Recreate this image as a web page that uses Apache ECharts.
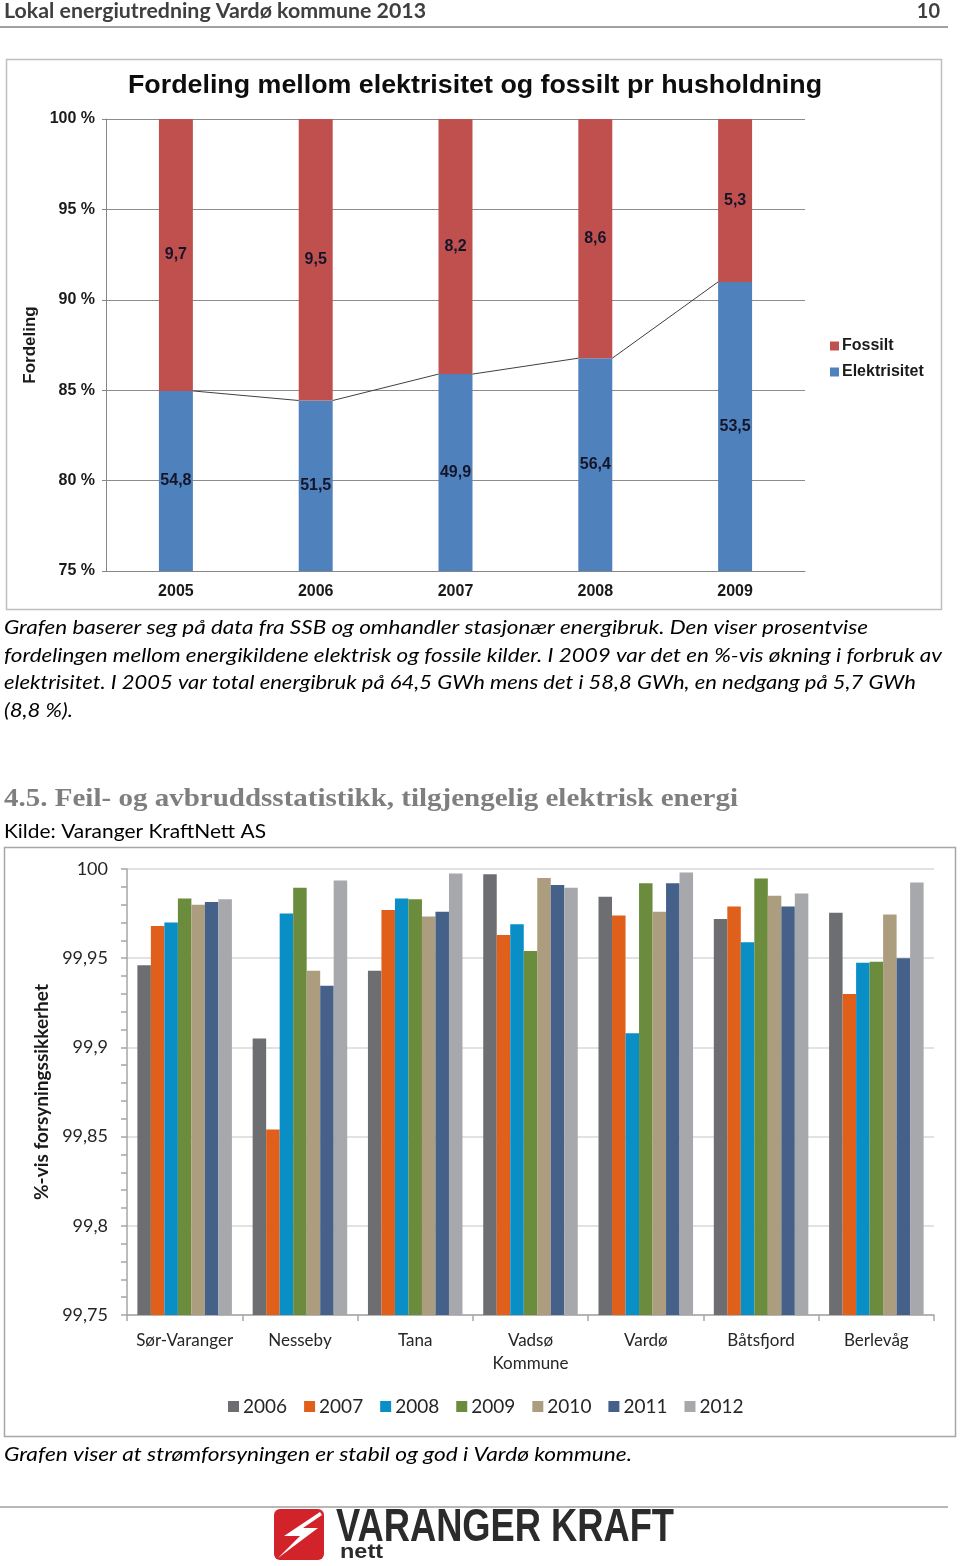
<!DOCTYPE html>
<html>
<head>
<meta charset="utf-8">
<script src="https://cdn.jsdelivr.net/npm/echarts@6/dist/echarts.min.js"></script>
<style>
html,body{margin:0;padding:0;background:#fff;}
#main{width:960px;height:1566px;}
</style>
</head>
<body>
<div id="main"></div>
<script>
// ---------- Top chart data ----------
const years = ['2005', '2006', '2007', '2008', '2009'];
const elLabels = [54.8, 51.5, 49.9, 56.4, 53.5];
const fosLabels = [9.7, 9.5, 8.2, 8.6, 5.3];
const elShare = [84.96, 84.43, 85.89, 86.77, 90.99];
const fosShare = [15.04, 15.57, 14.11, 13.23, 9.01];
const pctTicks = [75, 80, 85, 90, 95, 100];

// ---------- Bottom chart data ----------
const areas = ['Sør-Varanger', 'Nesseby', 'Tana', 'Vadsø\nKommune', 'Vardø', 'Båtsfjord', 'Berlevåg'];
const yearNames = ['2006', '2007', '2008', '2009', '2010', '2011', '2012'];
const v2006 = [99.946, 99.905, 99.943, 99.997, 99.9845, 99.972, 99.9755];
const v2007 = [99.968, 99.854, 99.977, 99.963, 99.974, 99.979, 99.930];
const v2008 = [99.970, 99.975, 99.9835, 99.969, 99.908, 99.959, 99.9475];
const v2009 = [99.9835, 99.9895, 99.983, 99.954, 99.992, 99.9947, 99.948];
const v2010 = [99.980, 99.943, 99.9734, 99.995, 99.976, 99.985, 99.9745];
const v2011 = [99.9815, 99.9346, 99.976, 99.991, 99.992, 99.979, 99.950];
const v2012 = [99.983, 99.9936, 99.9975, 99.9895, 99.998, 99.9863, 99.9925];
const relTicks = [99.75, 99.8, 99.85, 99.9, 99.95, 100];

const yearValues = [v2006, v2007, v2008, v2009, v2010, v2011, v2012];
const yearColors = ['#6d6e71', '#e0601b', '#0a8ec6', '#6b8c3d', '#ad9d7f', '#45618a', '#a6a8ab'];

const BODY = 'Lato, "Open Sans", sans-serif';
const ARIAL = '"Liberation Sans", Arial, sans-serif';

const cv = document.createElement('canvas').getContext('2d');
function fit(text, font, target) {
  cv.font = font;
  const w = cv.measureText(text).width;
  return w > 0 ? target / w : 1;
}
function txt(text, x, y, size, opts) {
  opts = opts || {};
  const weight = opts.weight || 'normal';
  const style = opts.italic ? 'italic' : 'normal';
  const fam = opts.family || BODY;
  const font = style + ' ' + weight + ' ' + size + 'px ' + fam;
  const sx = opts.width ? fit(text, font, opts.width) : 1;
  return {
    type: 'text', x: x, y: y, scaleX: sx, z: 10,
    style: {
      text: text, fill: opts.color || '#000',
      font: font, textAlign: opts.align || 'left', textVerticalAlign: 'middle'
    }
  };
}
function comma(v) { return String(Number(v.toFixed(2))).replace('.', ','); }

const chart = echarts.init(document.getElementById('main'), null, {renderer: 'canvas'});

const bottomSeries = yearNames.map((y, k) => ({
  name: y, type: 'bar', xAxisIndex: 1, yAxisIndex: 1,
  barGap: '0%', barCategoryGap: '18%',
  itemStyle: {color: yearColors[k]},
  data: yearValues[k]
}));

const lineData = elShare.slice(0, -1).map((v, i) => [i, v, elShare[i + 1]]);
const BAR_FRAC = 0.243;
const labelStyle = {color: '#15152a', fontFamily: ARIAL, fontWeight: 'bold', fontSize: 16};

const option = {
  animation: false,
  backgroundColor: '#fff',
  grid: [
    {left: 106, top: 119, width: 699, height: 452},
    {left: 127, top: 869, width: 807, height: 446}
  ],
  xAxis: [
    {
      type: 'category', gridIndex: 0, data: years,
      axisLine: {lineStyle: {color: '#868686'}},
      axisTick: {show: false},
      axisLabel: {color: '#1a1a1a', fontFamily: ARIAL, fontWeight: 'bold', fontSize: 16, margin: 13}
    },
    {
      type: 'category', gridIndex: 1, data: areas,
      axisLine: {lineStyle: {color: '#a6a6a6', width: 1.5}},
      axisTick: {show: true, length: 6, lineStyle: {color: '#a6a6a6', width: 1.5}},
      axisLabel: {color: '#262626', fontFamily: BODY, fontSize: 17, margin: 14, lineHeight: 23, interval: 0}
    }
  ],
  yAxis: [
    {
      type: 'value', gridIndex: 0, min: 75, max: 100, interval: 5,
      name: 'Fordeling', nameLocation: 'middle', nameGap: 60,
      nameTextStyle: {color: '#1a1a1a', fontFamily: ARIAL, fontWeight: 'bold', fontSize: 17},
      axisLine: {show: true, lineStyle: {color: '#868686'}},
      axisTick: {show: true, length: 4, lineStyle: {color: '#868686'}},
      axisLabel: {color: '#1a1a1a', fontFamily: ARIAL, fontWeight: 'bold', fontSize: 16, margin: 11,
        formatter: v => v + ' %'},
      splitLine: {lineStyle: {color: '#8c8c8c', width: 1}}
    },
    {
      type: 'value', gridIndex: 1, min: 99.75, max: 100, interval: 0.05,
      name: '%-vis forsyningssikkerhet', nameLocation: 'middle', nameGap: 75,
      nameTextStyle: {color: '#1a1a1a', fontFamily: BODY, fontWeight: 'bold', fontSize: 19},
      axisLine: {show: true, lineStyle: {color: '#a6a6a6', width: 1.5}},
      axisTick: {show: true, length: 6, lineStyle: {color: '#a6a6a6', width: 1.5}},
      minorTick: {show: true, splitNumber: 5, length: 6, lineStyle: {color: '#a6a6a6', width: 1.5}},
      axisLabel: {color: '#262626', fontFamily: BODY, fontSize: 18, margin: 19, formatter: comma},
      splitLine: {lineStyle: {color: '#d9d9d9', width: 1.5}}
    }
  ],
  legend: [
    {
      data: ['Fossilt', 'Elektrisitet'], orient: 'vertical', left: 825, top: 333,
      itemWidth: 9, itemHeight: 9, itemGap: 10, icon: 'rect',
      textStyle: {color: '#1a1a1a', fontFamily: ARIAL, fontWeight: 'bold', fontSize: 16, padding: [0, 0, 0, -2]}
    },
    {
      data: yearNames, orient: 'horizontal', left: 223, top: 1392,
      itemWidth: 11, itemHeight: 11, itemGap: 17, icon: 'rect',
      textStyle: {color: '#262626', fontFamily: BODY, fontSize: 19, padding: [0, 0, 0, -1]}
    }
  ],
  series: [
    {
      name: 'Elektrisitet', type: 'bar', stack: 'andel', xAxisIndex: 0, yAxisIndex: 0,
      barWidth: (BAR_FRAC * 100) + '%', itemStyle: {color: '#4f81bd'},
      label: Object.assign({show: true, position: 'inside',
        formatter: p => comma(elLabels[p.dataIndex])}, labelStyle),
      data: elShare
    },
    {
      name: 'Fossilt', type: 'bar', stack: 'andel', xAxisIndex: 0, yAxisIndex: 0,
      barWidth: (BAR_FRAC * 100) + '%', itemStyle: {color: '#c0504d'},
      label: Object.assign({show: true, position: 'inside',
        formatter: p => comma(fosLabels[p.dataIndex])}, labelStyle),
      data: fosShare
    },
    {
      name: 'serieslines', type: 'custom', xAxisIndex: 0, yAxisIndex: 0, z: 5,
      encode: {x: 0, y: 1},
      renderItem: function (params, api) {
        const i = api.value(0);
        const p1 = api.coord([i, api.value(1)]);
        const p2 = api.coord([i + 1, api.value(2)]);
        const half = api.size([1, 0])[0] * BAR_FRAC / 2;
        return {type: 'line', shape: {x1: p1[0] + half, y1: p1[1], x2: p2[0] - half, y2: p2[1]},
          style: {stroke: '#404040', lineWidth: 1}};
      },
      data: lineData
    }
  ].concat(bottomSeries),
  graphic: [
    // header
    txt('Lokal energiutredning Vardø kommune 2013', 4, 12, 20, {weight: 'bold', color: '#3f3f3f', width: 422}),
    txt('10', 940, 12, 20, {weight: 'bold', color: '#3f3f3f', align: 'right'}),
    {type: 'line', shape: {x1: 0, y1: 27, x2: 948, y2: 27}, style: {stroke: '#a0a0a0', lineWidth: 2}},
    // top chart frame + title
    {type: 'rect', shape: {x: 6.5, y: 59.5, width: 935, height: 550}, style: {fill: null, stroke: '#bfbfbf', lineWidth: 1.5}, z: 1},
    txt('Fordeling mellom elektrisitet og fossilt pr husholdning', 128, 86, 25, {weight: 'bold', family: ARIAL, color: '#0d0d0d', width: 694}),
    // paragraph
    txt('Grafen baserer seg på data fra SSB og omhandler stasjonær energibruk. Den viser prosentvise', 4, 628, 20, {italic: true, width: 864}),
    txt('fordelingen mellom energikildene elektrisk og fossile kilder. I 2009 var det en %-vis økning i forbruk av', 4, 656, 20, {italic: true, width: 938}),
    txt('elektrisitet. I 2005 var total energibruk på 64,5 GWh mens det i 58,8 GWh, en nedgang på 5,7 GWh', 4, 683, 20, {italic: true, width: 912}),
    txt('(8,8 %).', 4, 711, 20, {italic: true, width: 69}),
    // heading
    txt('4.5. Feil- og avbruddsstatistikk, tilgjengelig elektrisk energi', 4, 799, 26, {weight: 'bold', family: '"Liberation Serif", "DejaVu Serif", serif', color: '#7f7f7f', width: 734}),
    txt('Kilde: Varanger KraftNett AS', 4, 832, 20, {width: 262}),
    // bottom chart frame
    {type: 'rect', shape: {x: 4.5, y: 847.5, width: 951, height: 589}, style: {fill: null, stroke: '#a6a6a6', lineWidth: 1.5}, z: 1},
    txt('Grafen viser at strømforsyningen er stabil og god i Vardø kommune.', 4, 1455, 20, {italic: true, width: 628}),
    // footer
    {type: 'line', shape: {x1: 0, y1: 1507, x2: 948, y2: 1507}, style: {stroke: '#a0a0a0', lineWidth: 1.5}},
    {type: 'rect', shape: {x: 274, y: 1509, width: 50, height: 51, r: 6}, style: {fill: '#d2232a'}, z: 10},
    {type: 'polygon', shape: {points: [[320, 1512], [284, 1536], [300, 1536], [278, 1558], [318, 1528], [303, 1528], [322, 1515]]},
      style: {fill: '#ffffff'}, z: 11},
    txt('VARANGER KRAFT', 336, 1528, 46, {weight: 'bold', family: ARIAL, color: '#2b2b2b', width: 338}),
    txt('nett', 340, 1552, 20, {weight: 'bold', family: ARIAL, color: '#2b2b2b', width: 43})
  ]
};
chart.setOption(option);
</script>
</body>
</html>
